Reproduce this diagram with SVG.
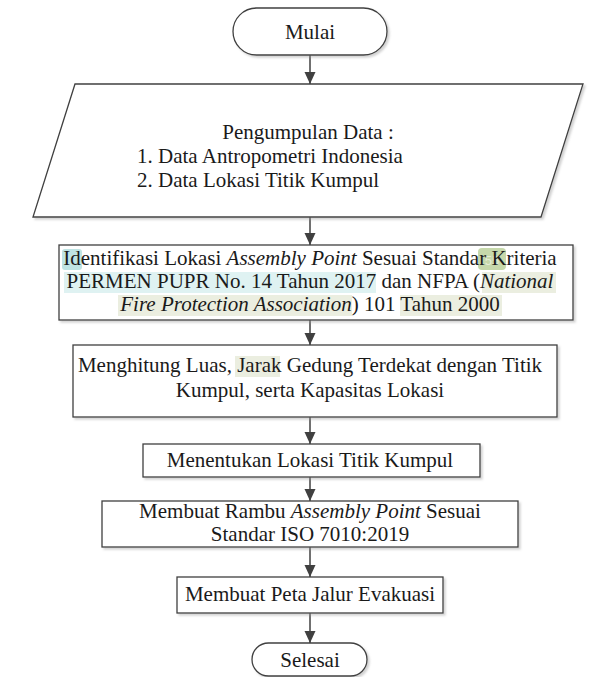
<svg xmlns="http://www.w3.org/2000/svg" width="595" height="677" viewBox="0 0 595 677">
  <style>
    .shape { fill: #ffffff; stroke: #404040; stroke-width: 1.3; filter: url(#shadow); }
    .lbl { font-family: "Liberation Serif", "Times New Roman", serif; font-size: 21px; fill: #1a1a1a; }
    .mid { text-anchor: middle; }
    .it { font-style: italic; }
    .conn { stroke: #404040; stroke-width: 1.5; fill: none; marker-end: url(#arrow); }
    .hl-teal { fill: #dff2f2; }
    .hl-teal-dark { fill: #bfe4e4; }
    .hl-olive { fill: #ebeee0; }
    .badge { fill: #c6d8ab; }
  </style>
  <defs>
    <filter id="shadow" x="-5%" y="-10%" width="112%" height="130%">
      <feDropShadow dx="2" dy="2" stdDeviation="0.8" flood-color="#9a9a9a" flood-opacity="0.45"/>
    </filter>
    <marker id="arrow" markerUnits="userSpaceOnUse" markerWidth="12" markerHeight="12" viewBox="0 0 12 12" refX="12" refY="6" orient="auto">
      <path d="M0,0.5 L12,6 L0,11.5 z" fill="#404040"/>
    </marker>
  </defs>

  <!-- connectors -->
  <g id="connectors">
    <line class="conn" x1="310" y1="55" x2="310" y2="84"/>
    <line class="conn" x1="310" y1="217" x2="310" y2="245"/>
    <line class="conn" x1="310" y1="320" x2="310" y2="345"/>
    <line class="conn" x1="310" y1="417" x2="310" y2="444"/>
    <line class="conn" x1="310" y1="477" x2="310" y2="501"/>
    <line class="conn" x1="310" y1="547" x2="310" y2="577"/>
    <line class="conn" x1="310" y1="613" x2="310" y2="643"/>
  </g>

  <!-- start terminator -->
  <g id="mulai">
    <rect class="shape" x="233" y="8" width="154" height="47" rx="23.5"/>
    <text class="lbl mid" x="310" y="39">Mulai</text>
  </g>

  <!-- data input -->
  <g id="pengumpulan-data">
    <polygon class="shape" points="75,84 583,84 541,217 33,217"/>
    <text class="lbl mid" x="308" y="139">Pengumpulan Data :</text>
    <text class="lbl" x="137" y="163">1. Data Antropometri Indonesia</text>
    <text class="lbl" x="137" y="187">2. Data Lokasi Titik Kumpul</text>
  </g>

  <!-- identification step -->
  <g id="identifikasi">
    <rect class="shape" x="59" y="245" width="514" height="75"/>
    <rect class="hl-teal-dark" x="62" y="249" width="20" height="21" rx="3"/>
    <rect class="badge" x="478" y="248" width="28" height="22" rx="4"/>
    <text x="492" y="265" font-family="Liberation Sans, Arial, sans-serif" font-size="13" fill="#ffffff" fill-opacity="0.55" text-anchor="middle">55</text>
    <rect class="hl-teal" x="64" y="272" width="312" height="21"/>
    <rect class="hl-olive" x="482" y="272" width="74" height="21"/>
    <rect class="hl-olive" x="118" y="295" width="234" height="21"/>
    <rect class="hl-olive" x="400" y="295" width="102" height="21"/>
    <text class="lbl mid" x="310" y="265">Identifikasi Lokasi <tspan class="it">Assembly Point</tspan> Sesuai Standar Kriteria</text>
    <text class="lbl mid" x="310" y="288">PERMEN PUPR No. 14 Tahun 2017 dan NFPA (<tspan class="it">National</tspan></text>
    <text class="lbl mid" x="310" y="311"><tspan class="it">Fire Protection Association</tspan>) 101 Tahun 2000</text>
  </g>

  <!-- area and distance calculation -->
  <g id="menghitung">
    <rect class="shape" x="73" y="345" width="484" height="72"/>
    <rect class="hl-olive" x="235" y="356" width="45" height="21"/>
    <text class="lbl mid" x="310" y="372">Menghitung Luas, Jarak Gedung Terdekat dengan Titik</text>
    <text class="lbl mid" x="310" y="397">Kumpul, serta Kapasitas Lokasi</text>
  </g>

  <!-- location decision -->
  <g id="menentukan">
    <rect class="shape" x="143" y="444" width="337" height="33"/>
    <text class="lbl mid" x="310" y="467">Menentukan Lokasi Titik Kumpul</text>
  </g>

  <!-- sign design -->
  <g id="rambu">
    <rect class="shape" x="102" y="501" width="416" height="46"/>
    <text class="lbl mid" x="310" y="518">Membuat Rambu <tspan class="it">Assembly Point</tspan> Sesuai</text>
    <text class="lbl mid" x="310" y="541">Standar ISO 7010:2019</text>
  </g>

  <!-- evacuation map -->
  <g id="peta">
    <rect class="shape" x="177" y="577" width="266" height="36"/>
    <text class="lbl mid" x="310" y="601">Membuat Peta Jalur Evakuasi</text>
  </g>

  <!-- end terminator -->
  <g id="selesai">
    <rect class="shape" x="252" y="643" width="115" height="33" rx="16.5"/>
    <text class="lbl mid" x="310" y="667">Selesai</text>
  </g>
</svg>
